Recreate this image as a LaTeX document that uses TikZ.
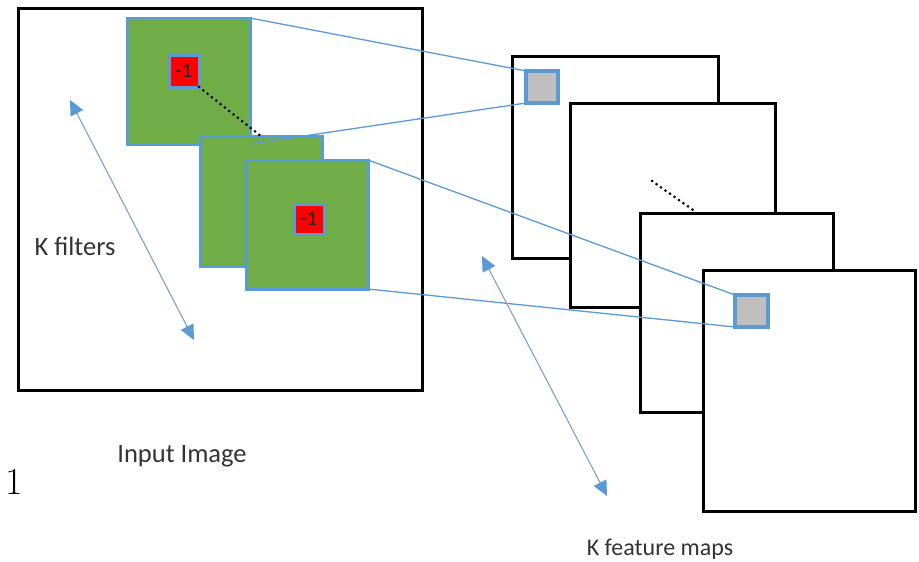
\documentclass[tikz,border=0pt]{standalone}
\usepackage{fontspec}
\setmainfont{Latin Modern Roman}
\newfontfamily\calib{Carlito}
\usetikzlibrary{arrows.meta}
\definecolor{fgreen}{HTML}{70AD47}
\definecolor{fblue}{HTML}{5B9BD5}
\definecolor{fred}{HTML}{FF0000}
\definecolor{fgray}{HTML}{BFBFBF}
\definecolor{arrblue}{HTML}{7F9FC8}
\begin{document}
\begin{tikzpicture}[x=1pt,y=-1pt,
  bigbox/.style={draw=black,line width=3pt,fill=white,anchor=north west,inner sep=0,outer sep=0},
  filterbox/.style={draw=fblue,line width=3pt,fill=fgreen,anchor=north west,inner sep=0,outer sep=0},
  cellbox/.style={draw=fblue,line width=3pt,fill=fred,anchor=north west,inner sep=0,outer sep=0,font=\calib\fontsize{21}{21}\selectfont,text=black!85},
  graybox/.style={draw=fblue,line width=3.5pt,fill=fgray,anchor=north west,inner sep=0,outer sep=0},
  link/.style={draw=fblue,line width=1.3pt},
  dotline/.style={draw=black,line width=3pt,line cap=round,dash pattern=on 0pt off 5.5pt},
  dbl/.style={draw=arrblue,line width=1.1pt,{Triangle[length=15pt,width=14pt,fill=fblue,color=fblue]}-{Triangle[length=15pt,width=14pt,fill=fblue,color=fblue]}},
  lbl/.style={font=\calib\fontsize{26.5}{26.5}\selectfont,text=black!80}
]
\path[use as bounding box] (0,0) rectangle (919,562);
% input image
\node[bigbox,minimum width=404pt,minimum height=382pt] (img) at (18,8) {};
% filters
\node[filterbox,minimum width=123pt,minimum height=126pt] (f1) at (127,18) {};
\node[cellbox,minimum width=30pt,minimum height=32pt] (c1) at (169,55) {-1};
\node[filterbox,minimum width=122pt,minimum height=130pt] (f2) at (200,136) {};
\node[filterbox,minimum width=122pt,minimum height=129pt] (f3) at (246,160) {};
\node[cellbox,minimum width=30pt,minimum height=30pt] (c3) at (294,204) {-1};
\coordinate (d1) at (262,137);
\draw[dotline] (c1.south east) -- (d1);
% feature maps
\node[bigbox,minimum width=206pt,minimum height=202pt] (m1) at (512,56) {};
\node[graybox,minimum width=32pt,minimum height=32pt] (g1) at (526,71) {};
\node[bigbox,minimum width=205pt,minimum height=204pt] (m2) at (570,103) {};
\node[bigbox,minimum width=193pt,minimum height=199pt] (m3) at (640,213) {};
\node[bigbox,minimum width=212pt,minimum height=241pt] (m4) at (703,270) {};
\node[graybox,minimum width=33pt,minimum height=32pt] (g2) at (735,295) {};
\coordinate (e1) at (652,181);
\coordinate (e2) at (693,210);
\draw[dotline] (e1) -- (e2);
% connectors
\draw[link] (f1.north east) -- (g1.north west);
\draw[link] (f1.south east) -- (g1.south west);
\draw[link] (f3.north east) -- (g2.north west);
\draw[link] (f3.south east) -- (g2.south west);
% double arrows
\coordinate (a1) at (70,100);
\coordinate (a2) at (194,340);
\draw[dbl] (a1) -- (a2);
\coordinate (b1) at (482,256);
\coordinate (b2) at (607,496);
\draw[dbl] (b1) -- (b2);
% labels
\node[lbl] (kf) at (75,246) {K filters};
\node[lbl] (ii) at (182,456) {Input Image};
\node[lbl,font=\calib\fontsize{24}{24}\selectfont] (km) at (660,549) {K feature maps};
\node[font=\fontsize{38}{38}\selectfont] (one) at (14,482) {1};
\end{tikzpicture}
\end{document}
